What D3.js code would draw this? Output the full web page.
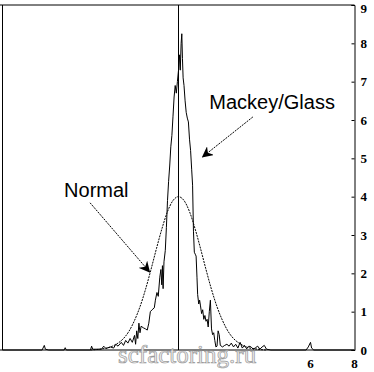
<!DOCTYPE html>
<html><head><meta charset="utf-8">
<script src="https://cdn.jsdelivr.net/npm/d3@7"></script>
<style>html,body{margin:0;padding:0;background:#fff;}svg{display:block;}</style>
</head><body>
<svg id="c" width="374" height="372"></svg>
<script>
// Normal density
const normX = [-4,-3.75,-3.5,-3.25,-3,-2.75,-2.5,-2.25,-2,-1.75,-1.5,-1.25,-1,-0.75,-0.5,-0.25,0,0.25,0.5,0.75,1,1.25,1.5,1.75,2,2.25,2.5,2.75,3,3.25,3.5,3.75,4];
const normY = [0.00,0.01,0.03,0.05,0.10,0.18,0.30,0.49,0.77,1.13,1.58,2.10,2.65,3.17,3.61,3.90,4.00,3.90,3.61,3.17,2.65,2.10,1.58,1.13,0.77,0.49,0.30,0.18,0.10,0.05,0.03,0.01,0.00];
const mgX = [-8,-6.2,-6.1,-6.05,-5.9,-5.2,-5.15,-5.1,-4.0,-3.95,-3.9,-3.5,-3.4,-3.3,-3.1,-2.95,-2.85,-2.75,-2.6,-2.5,-2.4,-2.3,-2.2,-2.1,-2.0,-1.95,-1.9,-1.85,-1.8,-1.75,-1.7,-1.6,-1.5,-1.42,-1.35,-1.28,-1.2,-1.1,-1.05,-0.98,-0.92,-0.85,-0.8,-0.76,-0.73,-0.7,-0.66,-0.6,-0.55,-0.5,-0.45,-0.4,-0.35,-0.3,-0.25,-0.2,-0.15,-0.1,-0.05,0.0,0.05,0.08,0.12,0.15,0.18,0.21,0.25,0.3,0.35,0.4,0.45,0.5,0.55,0.6,0.64,0.68,0.72,0.76,0.8,0.84,0.87,0.92,0.96,1.0,1.05,1.1,1.15,1.2,1.25,1.3,1.35,1.4,1.45,1.5,1.55,1.6,1.65,1.7,1.75,1.8,1.85,1.9,2.0,2.1,2.2,2.3,2.4,2.5,2.6,2.7,2.8,2.9,3.0,3.1,3.2,3.3,3.4,3.5,3.6,3.7,3.8,3.9,4.0,4.2,5.8,5.9,6.0,6.05,6.15,8];
const mgY = [0,0,0.12,0.02,0,0,0.06,0,0,0.1,0.02,0.02,0.1,0.04,0.08,0.05,0.15,0.1,0.2,0.12,0.25,0.18,0.3,0.2,0.38,0.15,0.5,0.3,0.7,0.45,0.62,0.58,0.55,0.52,0.7,1.0,1.05,1.1,1.3,1.5,1.4,1.9,2.1,1.7,2.2,1.6,2.3,2.6,3.2,3.9,4.4,4.8,5.3,5.6,6.1,6.6,6.9,6.7,7.0,7.3,7.7,7.3,8.0,8.25,7.6,7.1,6.9,6.5,6.2,6.05,5.95,5.5,5.2,4.7,4.3,3.1,2.55,2.5,2.45,1.9,1.45,1.2,1.3,1.15,0.95,1.05,0.8,0.9,0.75,0.8,0.6,1.0,1.3,0.55,0.4,0.45,0.25,0.08,0.1,0.5,0.4,0.12,0.08,0.12,0.15,0.1,0.18,0.08,0.15,0.05,0.2,0.05,0.12,0.03,0.1,0.08,0.02,0.06,0.1,0.02,0.08,0.12,0.02,0,0,0.08,0.2,0.05,0,0];
const yTicks = [0,1,2,3,4,5,6,7,8,9];
const xTickLabels = [6,8];
const labels = [
  {text:"Mackey/Glass", x:1.4, y:6.3, ax:3.38, ay:6.08, bx:1.10, by:5.04},
  {text:"Normal", x:-5.2, y:4.0, ax:-4.02, ay:3.84, bx:-1.32, by:2.04}
];

const svg = d3.select("#c");
const x = d3.scaleLinear().domain([-8,8]).range([2.5,354.5]);
const y = d3.scaleLinear().domain([0,9]).range([350,5]);

svg.append("defs").append("marker")
  .attr("id","ah").attr("viewBox","0 0 10 10").attr("refX",9).attr("refY",5)
  .attr("markerWidth",11).attr("markerHeight",11).attr("markerUnits","userSpaceOnUse")
  .attr("orient","auto")
  .append("path").attr("d","M0,0 L10,5 L0,10 L3,5 Z").attr("fill","#000");

// frame
const fr = svg.append("g").attr("stroke","#000").attr("fill","none").attr("stroke-width",1);
fr.append("line").attr("x1",0).attr("x2",x(8)).attr("y1",y(9)).attr("y2",y(9));
fr.append("line").attr("x1",0).attr("x2",x(8)).attr("y1",y(0)).attr("y2",y(0));
fr.append("line").attr("x1",x(-8)).attr("x2",x(-8)).attr("y1",y(9)).attr("y2",y(0));

// right axis
const ax = svg.append("g").attr("transform",`translate(${x(8)},0)`)
  .call(d3.axisRight(y).tickValues(yTicks).tickSize(-3).tickPadding(6).tickFormat(d3.format("d")));
ax.select(".domain").attr("stroke","#000");
ax.selectAll(".tick line").attr("stroke","#000");
ax.selectAll("text").attr("font-family","'Liberation Serif', serif").attr("font-size",13).attr("font-weight","bold").attr("fill","#000")
  .attr("dy",d=>d===9?"0.55em":"0.32em");

// center line
svg.append("line").attr("x1",x(0)).attr("x2",x(0)).attr("y1",y(9)).attr("y2",y(0))
  .attr("stroke","#000").attr("stroke-width",1);

// normal curve
svg.append("path").datum(normX.map((d,i)=>[d,normY[i]]))
  .attr("d",d3.line().x(d=>x(d[0])).y(d=>y(d[1])).curve(d3.curveMonotoneX))
  .attr("fill","none").attr("stroke","#000").attr("stroke-width",1).attr("stroke-dasharray","2,1");

// mackey/glass curve
svg.append("path").datum(mgX.map((d,i)=>[d,mgY[i]]))
  .attr("d",d3.line().x(d=>x(d[0])).y(d=>y(d[1])))
  .attr("fill","none").attr("stroke","#000").attr("stroke-width",1);

// annotations
labels.forEach(l=>{
  svg.append("text").attr("x",x(l.x)).attr("y",y(l.y)).text(l.text)
    .attr("font-family","'Liberation Sans', Arial, sans-serif").attr("font-size",20).attr("fill","#000");
  svg.append("line").attr("x1",x(l.ax)).attr("y1",y(l.ay)).attr("x2",x(l.bx)).attr("y2",y(l.by))
    .attr("stroke","#000").attr("stroke-width",1).attr("stroke-dasharray","2,1").attr("marker-end","url(#ah)");
});

// x tick labels
svg.selectAll(".xl").data(xTickLabels).enter().append("text")
  .attr("x",d=>x(d)).attr("y",368).attr("text-anchor","middle").text(d=>d)
  .attr("font-family","'Liberation Serif', serif").attr("font-size",13).attr("font-weight","bold");

// watermark
svg.append("text").attr("x",118).attr("y",363).text("scfactoring.ru")
  .attr("font-family","'Liberation Serif', serif").attr("font-size",25)
  .attr("fill","#eeeeee").attr("stroke","#9a9a9a").attr("stroke-width",0.7);
</script>
</body></html>
